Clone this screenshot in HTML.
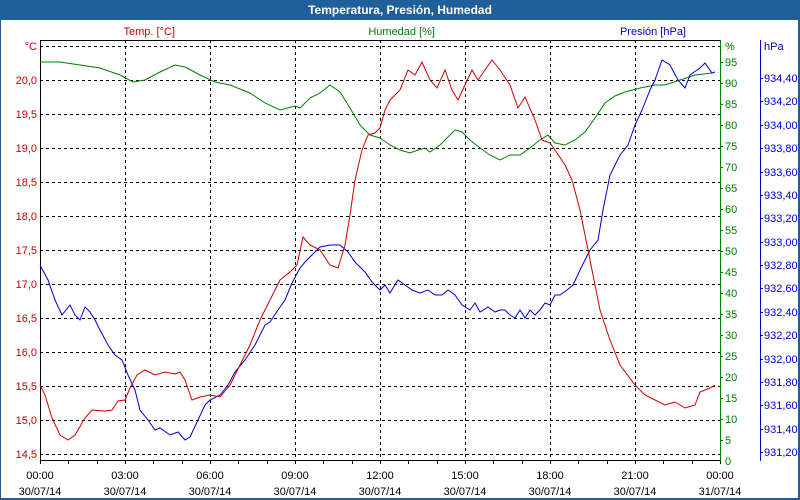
<!DOCTYPE html>
<html><head><meta charset="utf-8"><style>
html,body{margin:0;padding:0;background:#fff}
svg{display:block;font-family:"Liberation Sans",sans-serif;font-size:11px}
</style></head><body>
<svg width="800" height="500" viewBox="0 0 800 500" xmlns="http://www.w3.org/2000/svg">
<rect x="0" y="0" width="800" height="500" fill="#1f5f9a"/>
<rect x="1" y="20" width="797" height="478" fill="#fff"/>
<text x="400" y="14" fill="#fff" font-weight="bold" font-size="12" text-anchor="middle">Temperatura, Presión, Humedad</text>
<g stroke="#000" stroke-dasharray="3,3" stroke-width="1">
<path d="M40 46.5H720M40 80.5H720M40 114.5H720M40 148.5H720M40 182.5H720M40 216.5H720M40 250.5H720M40 284.5H720M40 318.5H720M40 352.5H720M40 386.5H720M40 420.5H720M40 454.5H720"/>
<path d="M125.5 40V460M210.5 40V460M295.5 40V460M380.5 40V460M465.5 40V460M550.5 40V460M635.5 40V460"/>
</g>
<path d="M40 40.5H720" stroke="#000"/>
<path d="M40.5 40V461M40 460.5H720" stroke="#000"/>
<g stroke="#000"><path d="M40.5 461v3M68.5 461v3M97.5 461v3M125.5 461v3M153.5 461v3M182.5 461v3M210.5 461v3M238.5 461v3M267.5 461v3M295.5 461v3M323.5 461v3M352.5 461v3M380.5 461v3M408.5 461v3M437.5 461v3M465.5 461v3M493.5 461v3M522.5 461v3M550.5 461v3M578.5 461v3M607.5 461v3M635.5 461v3M663.5 461v3M692.5 461v3M720.5 461v3"/></g>
<path d="M720.5 40V461" stroke="#008000"/>
<path d="M760.5 40V461" stroke="#0000cc"/>
<g fill="#cc0000" text-anchor="end">
<text x="37" y="50">°C</text>
<text x="37" y="84">20,0</text><text x="37" y="118">19,5</text><text x="37" y="152">19,0</text><text x="37" y="186">18,5</text><text x="37" y="220">18,0</text><text x="37" y="254">17,5</text><text x="37" y="288">17,0</text><text x="37" y="322">16,5</text><text x="37" y="356">16,0</text><text x="37" y="390">15,5</text><text x="37" y="424">15,0</text><text x="37" y="458">14,5</text>
<text x="175" y="35">Temp. [°C]</text>
</g>
<text x="435" y="35" fill="#008000" text-anchor="end">Humedad [%]</text>
<text x="686" y="35" fill="#0000cc" text-anchor="end">Presión [hPa]</text>
<g fill="#008000">
<text x="725" y="50">%</text>
<text x="725" y="66">95</text><text x="725" y="87">90</text><text x="725" y="108">85</text><text x="725" y="129">80</text><text x="725" y="150">75</text><text x="725" y="171">70</text><text x="725" y="192">65</text><text x="725" y="213">60</text><text x="725" y="234">55</text><text x="725" y="255">50</text><text x="725" y="276">45</text><text x="725" y="297">40</text><text x="725" y="318">35</text><text x="725" y="339">30</text><text x="725" y="360">25</text><text x="725" y="381">20</text><text x="725" y="402">15</text><text x="725" y="423">10</text><text x="725" y="444">5</text><text x="725" y="465">0</text>
</g>
<g stroke="#008000"><path d="M720 62.5h3M720 83.5h3M720 104.5h3M720 125.5h3M720 146.5h3M720 167.5h3M720 188.5h3M720 209.5h3M720 230.5h3M720 251.5h3M720 272.5h3M720 293.5h3M720 314.5h3M720 335.5h3M720 356.5h3M720 377.5h3M720 398.5h3M720 419.5h3M720 440.5h3"/></g>
<g fill="#0000cc">
<text x="764" y="50">hPa</text>
<text x="764" y="82">934,40</text><text x="764" y="105">934,20</text><text x="764" y="129">934,00</text><text x="764" y="152">933,80</text><text x="764" y="176">933,60</text><text x="764" y="199">933,40</text><text x="764" y="222">933,20</text><text x="764" y="246">933,00</text><text x="764" y="269">932,80</text><text x="764" y="292">932,60</text><text x="764" y="316">932,40</text><text x="764" y="339">932,20</text><text x="764" y="363">932,00</text><text x="764" y="386">931,80</text><text x="764" y="409">931,60</text><text x="764" y="433">931,40</text><text x="764" y="456">931,20</text>
</g>
<g stroke="#0000cc"><path d="M760 78.5h3M760 101.5h3M760 125.5h3M760 148.5h3M760 172.5h3M760 195.5h3M760 218.5h3M760 242.5h3M760 265.5h3M760 288.5h3M760 312.5h3M760 335.5h3M760 359.5h3M760 382.5h3M760 405.5h3M760 429.5h3M760 452.5h3"/></g>
<g fill="#000" text-anchor="middle">
<text x="40" y="479">00:00</text><text x="40" y="495">30/07/14</text>
<text x="125" y="479">03:00</text><text x="125" y="495">30/07/14</text>
<text x="210" y="479">06:00</text><text x="210" y="495">30/07/14</text>
<text x="295" y="479">09:00</text><text x="295" y="495">30/07/14</text>
<text x="380" y="479">12:00</text><text x="380" y="495">30/07/14</text>
<text x="465" y="479">15:00</text><text x="465" y="495">30/07/14</text>
<text x="550" y="479">18:00</text><text x="550" y="495">30/07/14</text>
<text x="635" y="479">21:00</text><text x="635" y="495">30/07/14</text>
<text x="720" y="479">00:00</text><text x="720" y="495">31/07/14</text>
</g>
<polyline fill="none" stroke="#008000" points="40,62 60,62 80,65 100,68 120,75 133,82 145,80 160,72 175,65 185,67 200,75 215,82 230,85 250,93 265,103 280,110 295,106 300,108 310,98 320,93 330,85 340,92 350,108 360,125 370,135 380,138 390,145 400,150 410,153 418,150 425,148 430,152 440,145 450,135 455,130 462,132 470,140 480,148 490,155 500,160 510,155 520,155 530,148 540,140 548,135 555,143 565,145 575,140 585,132 595,118 605,103 615,96 625,92 640,88 655,85 665,85 680,80 695,75 712,73"/>
<polyline fill="none" stroke="#0000cc" points="40,265 48,280 55,300 62,315 70,305 75,315 80,320 85,307 90,312 95,320 100,330 108,345 115,355 122,360 128,375 135,390 140,410 148,420 155,430 160,428 170,435 178,432 185,440 190,437 198,420 205,405 210,400 220,395 228,385 235,372 245,360 255,345 260,335 265,325 270,322 278,310 285,300 292,283 300,268 305,262 312,255 320,247 330,245 340,245 348,252 355,262 365,272 372,282 380,290 385,285 390,293 398,280 405,285 412,290 420,293 428,290 435,295 442,295 448,290 455,295 462,305 470,310 475,303 480,312 488,307 495,312 500,310 505,310 510,315 515,318 520,310 525,318 530,310 535,315 540,310 545,303 550,305 555,295 560,295 567,290 573,285 580,270 590,250 598,240 603,210 610,175 620,155 628,145 635,125 642,110 650,90 655,80 662,60 670,65 678,80 685,88 690,75 700,68 705,63 712,73 715,72"/>
<polyline fill="none" stroke="#cc0000" points="40,385 45,395 52,418 60,435 68,440 75,435 85,418 92,410 105,411 112,410 118,401 125,400 130,388 137,375 145,370 155,375 165,372 175,374 180,372 185,380 192,400 200,397 210,395 220,397 230,385 240,365 250,345 260,320 270,300 280,280 290,272 297,265 303,237 310,245 320,250 330,265 338,268 345,245 350,215 355,180 362,150 368,135 375,133 380,128 385,110 390,100 400,90 408,70 415,75 422,62 430,80 437,88 445,70 452,90 458,100 465,85 472,70 478,80 485,70 492,60 500,70 510,85 518,108 525,97 535,120 542,140 550,143 555,150 565,165 572,180 580,210 590,260 600,310 610,340 620,365 635,385 645,395 655,400 665,405 675,402 685,408 695,405 700,392 710,388 715,385"/>
</svg>
</body></html>
